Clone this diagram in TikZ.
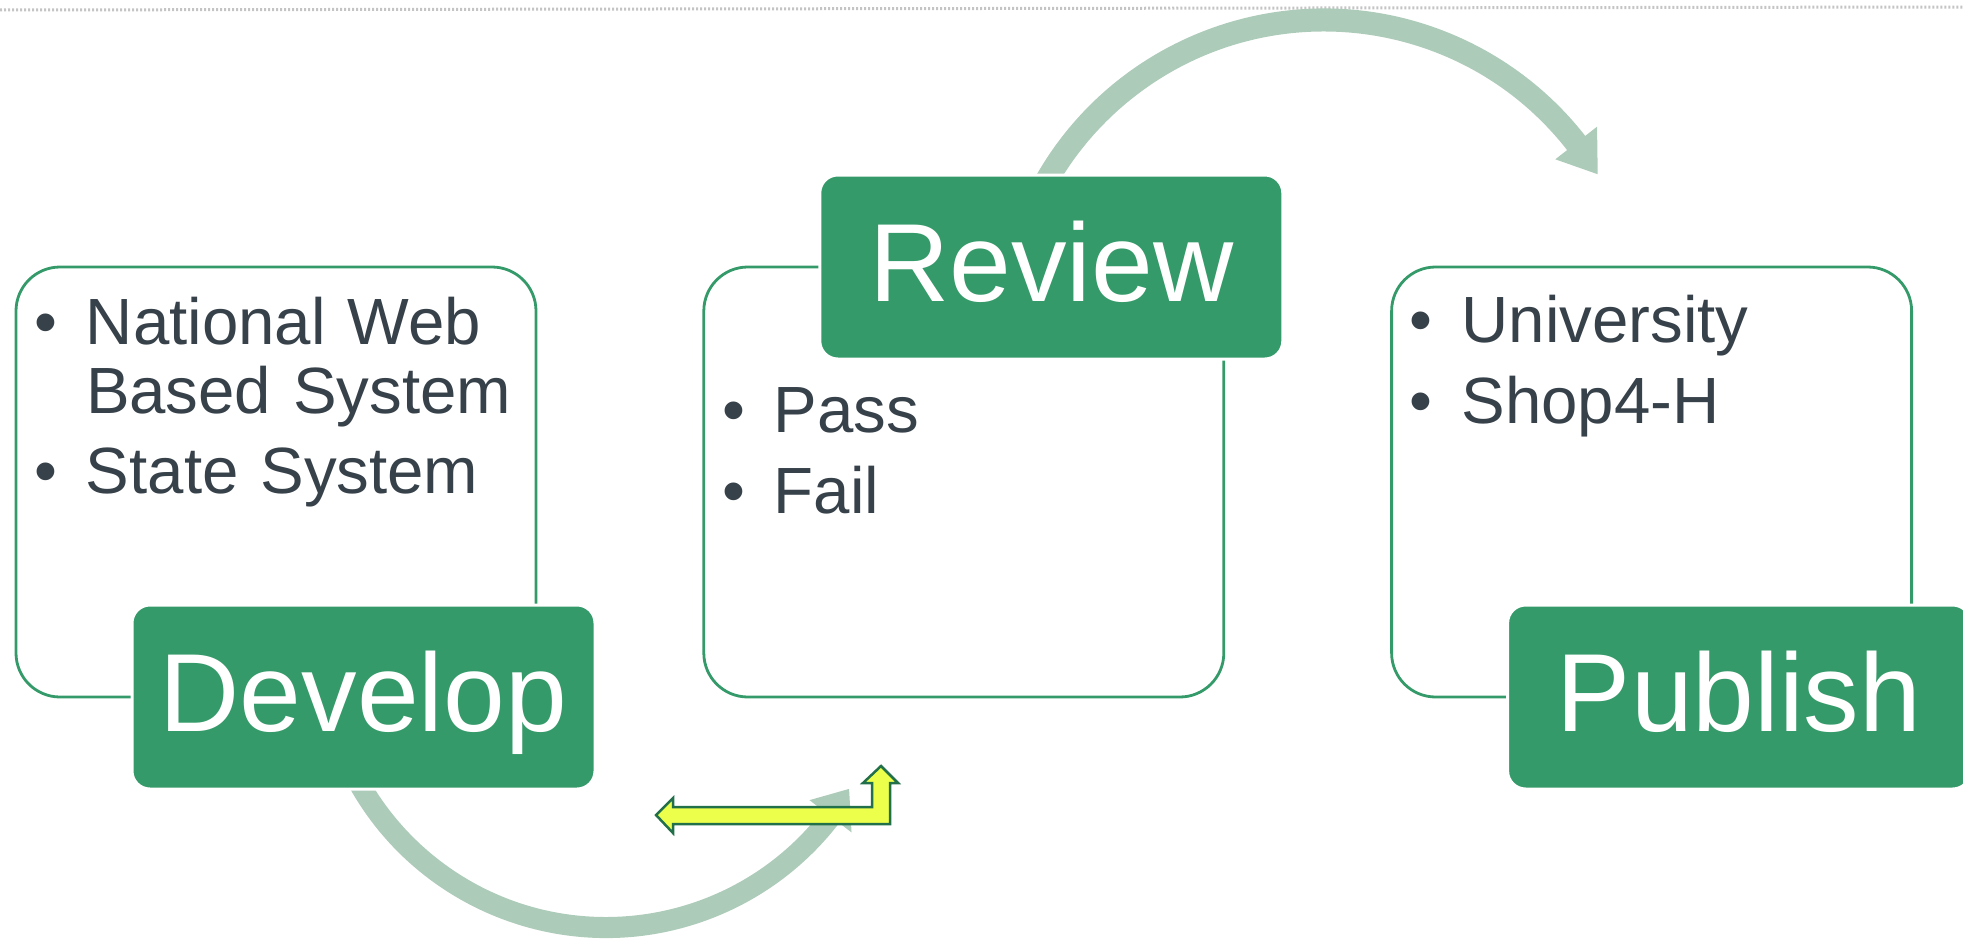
\documentclass[tikz,border=0pt]{standalone}
\usepackage{fontspec}
\setmainfont{Liberation Sans}
\usetikzlibrary{positioning, calc}

\definecolor{stagegreen}{HTML}{359A69}
\definecolor{listgray}{HTML}{37414A}
\definecolor{arcgreen}{HTML}{ADCBB9}
\definecolor{bentyellow}{HTML}{EBFF4B}
\definecolor{bentedge}{HTML}{22704A}
\definecolor{rulegray}{HTML}{C4C4C4}

\newcommand{\listdot}{\makebox[0.517cm][l]{\textbullet}}

\begin{document}
\begin{tikzpicture}[
  listbox/.style={rectangle, draw=stagegreen, line width=0.028cm, rounded corners=0.44cm, minimum width=5.2cm, minimum height=4.3cm},
  stagebox/.style={rectangle, fill=stagegreen, draw=white, line width=0.03cm, rounded corners=0.18cm, minimum width=4.63cm, minimum height=1.84cm, text=white, text height=0.9cm, text depth=0.22cm, font=\fontsize{31.6}{38}\selectfont},
  listtext/.style={anchor=base west, inner sep=0pt, text width=5cm, align=left, text=listgray, font=\fontsize{18.6}{19.5}\selectfont},
  cyclearrow/.style={fill=arcgreen},
  bentarrow/.style={fill=bentyellow, draw=bentedge, line width=0.025cm, line join=miter},
  rule/.style={draw=rulegray, line width=0.03cm, dash pattern=on 0.02cm off 0.02cm}
]
\useasboundingbox (0,0) rectangle (19.63,9.40);

%------------------------------------------------
% Dotted rule
%------------------------------------------------
\draw[rule] (0,9.30) -- (19.63,9.33);

%------------------------------------------------
% Cycle arrows
%------------------------------------------------
\coordinate (toparc) at (13.24,6.00);
\coordinate (botarc) at (6.06,2.96);

\fill[cyclearrow] ($(toparc)+(155:3.315)$) arc[start angle=155, end angle=38, radius=3.315]
  -- ($(toparc)+(38:3.465)$) -- ($(toparc)+(31.2:3.2)$) -- ($(toparc)+(38:2.935)$)
  -- ($(toparc)+(38:3.085)$) arc[start angle=38, end angle=155, radius=3.085] -- cycle;

\fill[cyclearrow] ($(botarc)+(205:2.94)$) arc[start angle=205, end angle=322.5, radius=2.94]
  -- ($(botarc)+(322.5:3.095)$) -- ($(botarc)+(329.2:2.83)$) -- ($(botarc)+(322.5:2.565)$)
  -- ($(botarc)+(322.5:2.73)$) arc[start angle=322.5, end angle=205, radius=2.73] -- cycle;

%------------------------------------------------
% List boxes
%------------------------------------------------
\node[listbox] (devbox) at (2.76,4.58) {};
\node[listbox, right=1.65cm of devbox] (revbox) {};
\node[listbox, right=1.65cm of revbox] (pubbox) {};

\node[listtext] (devlist) at ($(devbox.north west)+(0.19,-0.79)$)
  {\listdot National Web\\\hspace*{0.517cm}Based System\\[3.4pt]\listdot State System};
\node[listtext] (revlist) at ($(revbox.north west)+(0.19,-1.67)$)
  {\listdot Pass\\[3.4pt]\listdot Fail};
\node[listtext] (publist) at ($(pubbox.north west)+(0.19,-0.77)$)
  {\listdot University\\[3.4pt]\listdot Shop4-H};

%------------------------------------------------
% Stage boxes
%------------------------------------------------
\node[stagebox] (develop) at ($(devbox.center)+(0.875,-2.15)$) {Develop};
\node[stagebox] (review) at ($(revbox.center)+(0.875,2.15)$) {Review};
\node[stagebox] (publish) at ($(pubbox.center)+(0.875,-2.15)$) {Publish};

%------------------------------------------------
% Bent arrow
%------------------------------------------------
\draw[bentarrow] (6.56,1.25) -- (6.73,1.42) -- (6.73,1.33) -- (8.72,1.33) -- (8.72,1.57)
  -- (8.63,1.57) -- (8.81,1.74) -- (8.98,1.57) -- (8.90,1.57) -- (8.90,1.16)
  -- (6.73,1.16) -- (6.73,1.07) -- cycle;

\end{tikzpicture}
\end{document}
